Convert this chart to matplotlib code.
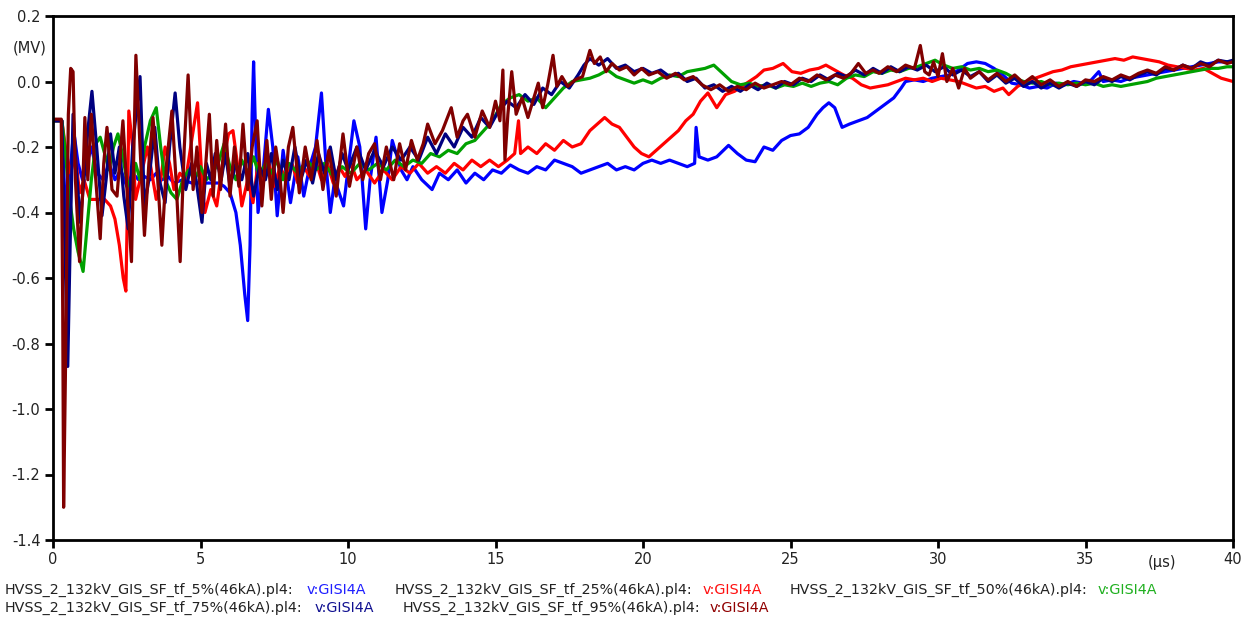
import matplotlib
matplotlib.use('Agg')
import matplotlib.pyplot as plt

# (t [us], v [MV])
pts_5 = [(0, -0.12), (0.3, -0.12), (0.4, -0.35), (0.48, -0.6), (0.56, -0.3), (0.7, -0.15), (0.85, -0.25),
         (1.0, -0.3), (1.15, -0.25), (1.3, -0.2), (1.5, -0.28), (1.7, -0.3), (1.9, -0.25), (2.1, -0.3),
         (2.3, -0.27), (2.5, -0.32), (2.7, -0.28), (2.9, -0.3), (3.1, -0.29), (3.3, -0.3), (3.5, -0.28),
         (3.7, -0.3), (3.9, -0.29), (4.1, -0.31), (4.4, -0.3), (4.7, -0.31), (5.0, -0.31), (5.3, -0.31),
         (5.6, -0.31), (5.8, -0.32), (6.0, -0.34), (6.2, -0.4), (6.35, -0.5), (6.5, -0.65), (6.6, -0.73),
         (6.68, -0.5), (6.75, -0.1), (6.8, 0.06), (6.88, -0.2), (6.95, -0.4), (7.1, -0.3), (7.3, -0.085),
         (7.45, -0.2), (7.6, -0.41), (7.8, -0.21), (8.05, -0.37), (8.3, -0.23), (8.5, -0.35), (8.7, -0.26),
         (8.9, -0.2), (9.1, -0.035), (9.25, -0.25), (9.4, -0.4), (9.55, -0.3), (9.85, -0.38), (10.2, -0.12),
         (10.4, -0.2), (10.6, -0.45), (10.75, -0.3), (10.95, -0.17), (11.15, -0.4), (11.35, -0.3),
         (11.5, -0.18), (11.8, -0.27), (12.0, -0.3), (12.2, -0.26), (12.5, -0.3), (12.85, -0.33),
         (13.1, -0.28), (13.4, -0.3), (13.7, -0.27), (14.0, -0.31), (14.3, -0.28), (14.6, -0.3),
         (14.9, -0.27), (15.2, -0.28), (15.5, -0.255), (15.8, -0.27), (16.1, -0.28), (16.4, -0.26),
         (16.7, -0.27), (17.0, -0.24), (17.3, -0.25), (17.6, -0.26), (17.9, -0.28), (18.2, -0.27),
         (18.5, -0.26), (18.8, -0.25), (19.1, -0.27), (19.4, -0.26), (19.7, -0.27), (20.0, -0.25),
         (20.3, -0.24), (20.6, -0.25), (20.9, -0.24), (21.2, -0.25), (21.5, -0.26), (21.75, -0.25),
         (21.8, -0.14), (21.9, -0.23), (22.2, -0.24), (22.5, -0.23), (22.9, -0.195), (23.2, -0.22),
         (23.5, -0.24), (23.8, -0.245), (24.1, -0.2), (24.4, -0.21), (24.7, -0.18), (25.0, -0.165),
         (25.3, -0.16), (25.6, -0.14), (25.9, -0.1), (26.1, -0.08), (26.3, -0.065), (26.5, -0.08),
         (26.75, -0.14), (27.0, -0.13), (27.3, -0.12), (27.6, -0.11), (27.9, -0.09), (28.2, -0.07),
         (28.5, -0.05), (28.75, -0.02), (28.9, 0.0), (29.2, 0.005), (29.5, 0.0), (29.8, 0.01), (30.1, 0.015),
         (30.4, 0.02), (30.7, 0.035), (31.0, 0.055), (31.3, 0.06), (31.6, 0.055), (31.9, 0.04), (32.2, 0.02),
         (32.5, -0.005), (32.8, -0.01), (33.1, -0.02), (33.4, -0.015), (33.7, -0.02), (34.0, -0.005),
         (34.3, -0.01), (34.6, 0.0), (34.9, -0.005), (35.2, 0.005), (35.45, 0.03), (35.6, 0.0), (35.9, 0.005),
         (36.2, 0.0), (36.5, 0.01), (36.8, 0.015), (37.1, 0.02), (37.4, 0.025), (37.7, 0.03), (38.0, 0.035),
         (38.3, 0.04), (38.6, 0.045), (38.9, 0.05), (39.2, 0.055), (39.5, 0.06), (39.8, 0.06), (40.0, 0.06)]

pts_25 = [(0, -0.12), (0.3, -0.12), (0.45, -0.22), (0.6, -0.28), (0.75, -0.22), (0.9, -0.34), (1.05, -0.3),
          (1.25, -0.36), (1.5, -0.36), (1.75, -0.36), (1.95, -0.38), (2.1, -0.42), (2.25, -0.5), (2.38, -0.6),
          (2.47, -0.64), (2.53, -0.35), (2.57, -0.09), (2.7, -0.2), (2.8, -0.36), (2.95, -0.3), (3.2, -0.2),
          (3.35, -0.28), (3.5, -0.36), (3.65, -0.3), (3.8, -0.2), (3.95, -0.25), (4.1, -0.33), (4.3, -0.28),
          (4.5, -0.3), (4.7, -0.18), (4.9, -0.065), (5.05, -0.3), (5.15, -0.4), (5.35, -0.33), (5.55, -0.38),
          (5.75, -0.25), (5.95, -0.16), (6.1, -0.15), (6.25, -0.25), (6.4, -0.38), (6.6, -0.3), (6.78, -0.37),
          (6.95, -0.25), (7.1, -0.3), (7.3, -0.24), (7.5, -0.32), (7.7, -0.26), (7.9, -0.3), (8.1, -0.25),
          (8.3, -0.31), (8.5, -0.26), (8.7, -0.29), (8.9, -0.24), (9.1, -0.3), (9.3, -0.25), (9.5, -0.31),
          (9.7, -0.26), (9.9, -0.29), (10.1, -0.25), (10.3, -0.3), (10.6, -0.27), (10.9, -0.31), (11.2, -0.27),
          (11.5, -0.3), (11.8, -0.26), (12.1, -0.28), (12.4, -0.25), (12.7, -0.28), (13.0, -0.26),
          (13.3, -0.28), (13.6, -0.25), (13.9, -0.27), (14.2, -0.24), (14.5, -0.26), (14.8, -0.24),
          (15.1, -0.26), (15.4, -0.24), (15.65, -0.22), (15.78, -0.12), (15.85, -0.22), (16.1, -0.2),
          (16.4, -0.22), (16.7, -0.19), (17.0, -0.21), (17.3, -0.18), (17.6, -0.2), (17.9, -0.19),
          (18.2, -0.15), (18.45, -0.13), (18.7, -0.11), (18.95, -0.13), (19.2, -0.14), (19.45, -0.17),
          (19.7, -0.2), (19.95, -0.22), (20.2, -0.23), (20.45, -0.21), (20.7, -0.19), (20.95, -0.17),
          (21.2, -0.15), (21.45, -0.12), (21.7, -0.1), (21.95, -0.06), (22.2, -0.035), (22.5, -0.08),
          (22.8, -0.04), (23.1, -0.03), (23.35, -0.015), (23.6, 0.0), (23.85, 0.015), (24.1, 0.035),
          (24.4, 0.04), (24.75, 0.055), (25.05, 0.03), (25.35, 0.025), (25.65, 0.035), (25.95, 0.04),
          (26.2, 0.05), (26.5, 0.035), (26.8, 0.02), (27.1, 0.01), (27.4, -0.01), (27.7, -0.02), (28.0, -0.015),
          (28.3, -0.01), (28.6, 0.0), (28.9, 0.01), (29.2, 0.005), (29.5, 0.01), (29.8, 0.0), (30.1, 0.01),
          (30.4, 0.005), (30.7, 0.0), (31.0, -0.01), (31.3, -0.02), (31.6, -0.015), (31.9, -0.03),
          (32.2, -0.02), (32.4, -0.04), (32.7, -0.015), (33.0, 0.0), (33.3, 0.01), (33.6, 0.02), (33.9, 0.03),
          (34.2, 0.035), (34.5, 0.045), (34.8, 0.05), (35.1, 0.055), (35.4, 0.06), (35.7, 0.065), (36.0, 0.07),
          (36.3, 0.065), (36.6, 0.075), (36.9, 0.07), (37.2, 0.065), (37.5, 0.06), (37.8, 0.05), (38.1, 0.045),
          (38.4, 0.04), (38.7, 0.035), (39.0, 0.04), (39.3, 0.025), (39.6, 0.01), (40.0, 0.0)]

pts_50 = [(0, -0.12), (0.3, -0.12), (0.4, -0.2), (0.55, -0.35), (0.7, -0.45), (0.85, -0.52), (1.02, -0.58),
          (1.15, -0.45), (1.3, -0.3), (1.45, -0.19), (1.6, -0.17), (1.75, -0.22), (1.9, -0.27), (2.05, -0.2),
          (2.2, -0.16), (2.35, -0.22), (2.5, -0.3), (2.65, -0.33), (2.8, -0.25), (2.95, -0.3), (3.1, -0.2),
          (3.3, -0.12), (3.5, -0.08), (3.65, -0.2), (3.8, -0.3), (4.0, -0.34), (4.2, -0.36), (4.4, -0.3),
          (4.6, -0.27), (4.8, -0.3), (5.0, -0.26), (5.2, -0.3), (5.4, -0.28), (5.6, -0.25), (5.8, -0.19),
          (6.0, -0.26), (6.2, -0.3), (6.4, -0.24), (6.6, -0.28), (6.8, -0.23), (7.0, -0.29), (7.2, -0.25),
          (7.4, -0.28), (7.6, -0.24), (7.8, -0.3), (8.0, -0.25), (8.3, -0.28), (8.6, -0.24), (8.9, -0.27),
          (9.2, -0.25), (9.5, -0.29), (9.8, -0.26), (10.1, -0.28), (10.4, -0.25), (10.7, -0.27), (11.0, -0.25),
          (11.3, -0.27), (11.6, -0.24), (11.9, -0.26), (12.2, -0.24), (12.5, -0.25), (12.8, -0.22),
          (13.1, -0.23), (13.4, -0.21), (13.7, -0.22), (14.0, -0.19), (14.3, -0.18), (14.6, -0.15),
          (14.9, -0.12), (15.2, -0.07), (15.5, -0.05), (15.8, -0.04), (16.1, -0.06), (16.4, -0.05),
          (16.7, -0.08), (17.0, -0.05), (17.3, -0.02), (17.6, 0.0), (17.9, 0.005), (18.2, 0.01), (18.5, 0.02),
          (18.8, 0.035), (19.1, 0.015), (19.4, 0.005), (19.7, -0.005), (20.0, 0.005), (20.3, -0.005),
          (20.6, 0.01), (20.9, 0.02), (21.2, 0.015), (21.5, 0.03), (21.8, 0.035), (22.1, 0.04), (22.4, 0.05),
          (22.7, 0.025), (23.0, 0.0), (23.3, -0.01), (23.6, -0.005), (23.9, -0.015), (24.2, -0.01),
          (24.5, -0.02), (24.8, -0.01), (25.1, -0.015), (25.4, -0.005), (25.7, -0.015), (26.0, -0.005),
          (26.3, 0.0), (26.6, -0.01), (26.9, 0.01), (27.2, 0.02), (27.5, 0.015), (27.8, 0.03), (28.1, 0.025),
          (28.4, 0.035), (28.7, 0.03), (29.0, 0.04), (29.3, 0.045), (29.6, 0.055), (29.9, 0.065), (30.2, 0.05),
          (30.5, 0.04), (30.8, 0.045), (31.1, 0.035), (31.4, 0.04), (31.7, 0.03), (32.0, 0.035), (32.3, 0.025),
          (32.6, 0.01), (32.9, 0.0), (33.2, -0.005), (33.5, 0.0), (33.8, -0.01), (34.1, -0.005), (34.4, -0.01),
          (34.7, -0.005), (35.0, -0.01), (35.3, -0.005), (35.6, -0.015), (35.9, -0.01), (36.2, -0.015),
          (36.5, -0.01), (36.8, -0.005), (37.1, 0.0), (37.4, 0.01), (37.7, 0.015), (38.0, 0.02), (38.3, 0.025),
          (38.6, 0.03), (38.9, 0.035), (39.2, 0.04), (39.5, 0.04), (39.8, 0.045), (40.0, 0.045)]

pts_75 = [(0, -0.12), (0.3, -0.12), (0.4, -0.5), (0.5, -0.87), (0.58, -0.5), (0.68, -0.1), (0.78, -0.25),
          (0.92, -0.43), (1.05, -0.3), (1.18, -0.15), (1.32, -0.03), (1.48, -0.2), (1.66, -0.41), (1.8, -0.3),
          (1.95, -0.16), (2.1, -0.28), (2.25, -0.2), (2.4, -0.35), (2.55, -0.45), (2.7, -0.2), (2.95, 0.015),
          (3.1, -0.38), (3.25, -0.3), (3.45, -0.14), (3.6, -0.3), (3.8, -0.37), (3.95, -0.2), (4.14, -0.035),
          (4.3, -0.2), (4.5, -0.33), (4.7, -0.25), (4.85, -0.3), (5.05, -0.43), (5.2, -0.25), (5.35, -0.3),
          (5.5, -0.22), (5.7, -0.3), (5.85, -0.22), (6.0, -0.32), (6.2, -0.25), (6.4, -0.3), (6.6, -0.22),
          (6.8, -0.35), (7.0, -0.26), (7.2, -0.3), (7.4, -0.22), (7.6, -0.33), (7.8, -0.24), (8.0, -0.3),
          (8.2, -0.2), (8.4, -0.3), (8.6, -0.24), (8.8, -0.31), (9.0, -0.22), (9.2, -0.28), (9.4, -0.2),
          (9.6, -0.3), (9.8, -0.22), (10.0, -0.27), (10.3, -0.2), (10.6, -0.27), (10.9, -0.21), (11.2, -0.26),
          (11.5, -0.2), (11.8, -0.24), (12.1, -0.2), (12.4, -0.24), (12.7, -0.17), (13.0, -0.22), (13.3, -0.16),
          (13.6, -0.2), (13.9, -0.14), (14.2, -0.17), (14.5, -0.11), (14.8, -0.14), (15.1, -0.09), (15.4, -0.06),
          (15.7, -0.08), (16.0, -0.04), (16.3, -0.07), (16.6, -0.02), (16.9, -0.04), (17.2, 0.0), (17.5, -0.02),
          (17.8, 0.02), (18.0, 0.05), (18.2, 0.07), (18.5, 0.05), (18.8, 0.07), (19.1, 0.04), (19.4, 0.05),
          (19.7, 0.03), (20.0, 0.04), (20.3, 0.025), (20.6, 0.035), (20.9, 0.015), (21.2, 0.025), (21.5, 0.0),
          (21.8, 0.01), (22.1, -0.02), (22.4, -0.01), (22.7, -0.03), (23.0, -0.015), (23.3, -0.03),
          (23.6, -0.01), (23.9, -0.025), (24.2, -0.005), (24.5, -0.02), (24.8, 0.0), (25.1, -0.01), (25.4, 0.01),
          (25.7, 0.0), (26.0, 0.02), (26.3, 0.005), (26.6, 0.025), (26.9, 0.015), (27.2, 0.035), (27.5, 0.02),
          (27.8, 0.04), (28.1, 0.025), (28.4, 0.045), (28.7, 0.03), (29.0, 0.045), (29.3, 0.035), (29.6, 0.05),
          (29.9, 0.03), (30.2, 0.045), (30.5, 0.02), (30.8, 0.035), (31.1, 0.015), (31.4, 0.03), (31.7, 0.0),
          (32.0, 0.02), (32.3, -0.005), (32.6, 0.01), (32.9, -0.015), (33.2, 0.0), (33.5, -0.02), (33.8, -0.005),
          (34.1, -0.02), (34.4, -0.005), (34.7, -0.015), (35.0, 0.0), (35.3, -0.01), (35.6, 0.01), (35.9, 0.0),
          (36.2, 0.015), (36.5, 0.005), (36.8, 0.02), (37.1, 0.03), (37.4, 0.02), (37.7, 0.04), (38.0, 0.035),
          (38.3, 0.05), (38.6, 0.04), (38.9, 0.06), (39.2, 0.05), (39.5, 0.065), (39.8, 0.06), (40.0, 0.065)]

pts_95 = [(0, -0.115), (0.28, -0.115), (0.33, -0.7), (0.36, -1.30), (0.42, -0.9), (0.52, -0.1), (0.6, 0.04),
          (0.68, 0.03), (0.76, -0.3), (0.9, -0.55), (1.0, -0.35), (1.08, -0.11), (1.18, -0.3), (1.3, -0.1),
          (1.45, -0.3), (1.6, -0.48), (1.72, -0.25), (1.83, -0.14), (2.0, -0.33), (2.17, -0.35), (2.37, -0.12),
          (2.52, -0.35), (2.66, -0.55), (2.81, 0.08), (2.95, -0.2), (3.1, -0.47), (3.25, -0.25), (3.39, -0.11),
          (3.55, -0.3), (3.69, -0.5), (3.85, -0.25), (4.03, -0.09), (4.17, -0.3), (4.31, -0.55), (4.45, -0.2),
          (4.58, 0.02), (4.75, -0.33), (4.88, -0.2), (5.05, -0.4), (5.18, -0.25), (5.3, -0.1), (5.43, -0.35),
          (5.55, -0.18), (5.68, -0.33), (5.85, -0.13), (6.0, -0.35), (6.15, -0.2), (6.3, -0.32), (6.44, -0.13),
          (6.6, -0.33), (6.75, -0.2), (6.92, -0.12), (7.08, -0.38), (7.25, -0.18), (7.4, -0.36), (7.55, -0.2),
          (7.68, -0.28), (7.8, -0.4), (7.98, -0.2), (8.13, -0.14), (8.35, -0.34), (8.55, -0.2), (8.75, -0.3),
          (8.95, -0.18), (9.15, -0.33), (9.35, -0.21), (9.6, -0.35), (9.83, -0.16), (10.05, -0.32), (10.3, -0.2),
          (10.5, -0.3), (10.7, -0.22), (10.9, -0.19), (11.1, -0.3), (11.3, -0.2), (11.55, -0.3), (11.75, -0.19),
          (11.95, -0.27), (12.15, -0.18), (12.35, -0.24), (12.55, -0.19), (12.7, -0.13), (12.95, -0.19),
          (13.2, -0.15), (13.5, -0.08), (13.7, -0.17), (13.9, -0.12), (14.05, -0.1), (14.3, -0.17),
          (14.55, -0.09), (14.8, -0.14), (15.0, -0.06), (15.15, -0.12), (15.25, 0.035), (15.32, -0.24),
          (15.42, -0.1), (15.55, 0.03), (15.7, -0.1), (15.9, -0.05), (16.1, -0.11), (16.3, -0.05),
          (16.45, -0.005), (16.6, -0.08), (16.77, -0.01), (16.95, 0.08), (17.08, -0.015), (17.25, 0.015),
          (17.45, -0.015), (17.7, 0.005), (17.95, 0.015), (18.2, 0.095), (18.35, 0.055), (18.55, 0.075),
          (18.75, 0.03), (18.95, 0.055), (19.2, 0.035), (19.45, 0.045), (19.7, 0.02), (19.95, 0.04), (20.2, 0.02),
          (20.5, 0.03), (20.8, 0.01), (21.1, 0.025), (21.4, 0.005), (21.7, 0.015), (22.0, -0.01), (22.3, -0.025),
          (22.6, -0.01), (22.9, -0.03), (23.2, -0.015), (23.5, -0.025), (23.8, -0.005), (24.1, -0.02),
          (24.4, -0.01), (24.7, 0.0), (25.0, -0.01), (25.3, 0.01), (25.6, 0.0), (25.9, 0.02), (26.2, 0.005),
          (26.5, 0.02), (26.8, 0.01), (27.05, 0.025), (27.3, 0.055), (27.55, 0.025), (27.8, 0.035), (28.0, 0.025),
          (28.3, 0.045), (28.6, 0.03), (28.9, 0.05), (29.2, 0.04), (29.4, 0.11), (29.55, 0.03), (29.7, 0.02),
          (29.85, 0.06), (30.0, 0.015), (30.15, 0.085), (30.3, 0.0), (30.5, 0.04), (30.7, -0.02), (30.9, 0.04),
          (31.1, 0.01), (31.4, 0.03), (31.7, 0.005), (32.0, 0.025), (32.3, 0.0), (32.6, 0.02), (32.9, -0.005),
          (33.2, 0.015), (33.5, -0.01), (33.8, 0.005), (34.1, -0.015), (34.4, 0.0), (34.7, -0.015), (35.0, 0.005),
          (35.3, 0.0), (35.6, 0.015), (35.9, 0.005), (36.2, 0.02), (36.5, 0.01), (36.8, 0.025), (37.1, 0.035),
          (37.4, 0.025), (37.7, 0.045), (38.0, 0.035), (38.3, 0.05), (38.6, 0.04), (38.9, 0.055), (39.2, 0.045),
          (39.5, 0.065), (39.8, 0.055), (40.0, 0.06)]

files = ['HVSS_2_132kV_GIS_SF_tf_5%(46kA).pl4:', 'HVSS_2_132kV_GIS_SF_tf_25%(46kA).pl4:',
         'HVSS_2_132kV_GIS_SF_tf_50%(46kA).pl4:', 'HVSS_2_132kV_GIS_SF_tf_75%(46kA).pl4:',
         'HVSS_2_132kV_GIS_SF_tf_95%(46kA).pl4:']
var_name = 'v:GISI4A'
series = [pts_5, pts_25, pts_50, pts_75, pts_95]
colors = ['#0000ff', '#ff0000', '#00a000', '#000080', '#800000']
text_colors = ['#2020ff', '#ff1010', '#20b020', '#101090', '#900000']

x_ticks = [0, 5, 10, 15, 20, 25, 30, 35, 40]
y_ticks = [-1.4, -1.2, -1.0, -0.8, -0.6, -0.4, -0.2, 0.0, 0.2]

W, H = 1250, 621
fig = plt.figure(figsize=(W / 100, H / 100), dpi=100)
ax = fig.add_axes([53 / W, 1 - 540 / H, (1233 - 53) / W, (540 - 16) / H])

for pts, c in zip(series, colors):
    t, v = zip(*pts)
    ax.plot(t, v, color=c, lw=2.3, solid_joinstyle='round')

ax.set_xlim(0, 40)
ax.set_ylim(-1.4, 0.2)
ax.set_xticks(x_ticks)
ax.set_xticklabels([str(x) for x in x_ticks])
ax.set_yticks(y_ticks)
ax.set_yticklabels(['%.1f' % y for y in y_ticks])
ax.tick_params(direction='out', length=6, width=2, labelsize=10.5, colors='black', pad=3)
ax.tick_params(axis='x', labelcolor='#222222')
ax.tick_params(axis='y', labelcolor='#222222')
for s in ax.spines.values():
    s.set_linewidth(2)

fig.text(30 / W, 1 - 48 / H, '(MV)', ha='center', va='center', fontsize=10.5, color='#222222')
fig.text(1162 / W, 1 - 562 / H, '(\u00b5s)', ha='center', va='center', fontsize=10.5, color='#222222')

# legend block under the plot, two rows like PlotXY
file_x = [5, 395, 790, 5, 403]
var_x = [307, 703, 1098, 315, 710]
row_y = [590, 590, 590, 608, 608]
for i in range(5):
    fig.text(file_x[i] / W, 1 - row_y[i] / H, files[i], ha='left', va='center', fontsize=10.3, color='#222222')
    fig.text(var_x[i] / W, 1 - row_y[i] / H, var_name, ha='left', va='center', fontsize=10.3, color=text_colors[i])

fig.savefig('out.png', dpi=100)
